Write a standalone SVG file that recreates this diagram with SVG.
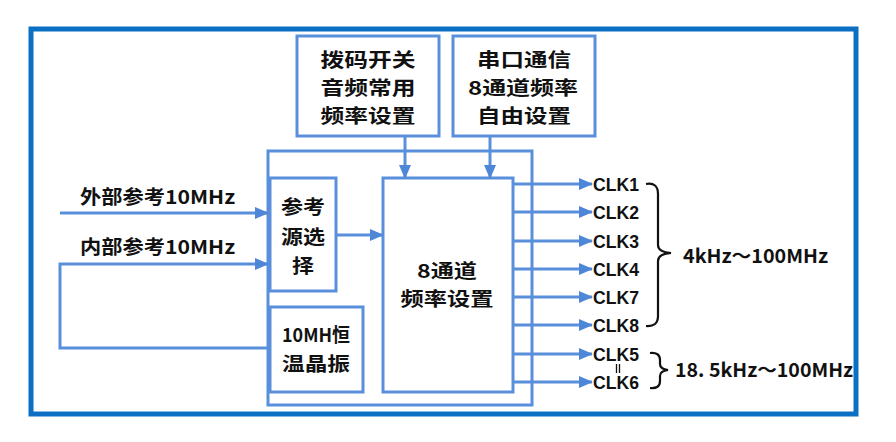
<svg xmlns="http://www.w3.org/2000/svg" width="896" height="442" viewBox="0 0 896 442">
<defs>
<style>
.frame{fill:none;stroke:#0b6fc3;stroke-width:5}
.box{fill:#fff;stroke:#5a8fdc;stroke-width:3}
.ln{fill:none;stroke:#5a8fdc;stroke-width:3}
.br{fill:none;stroke:#111;stroke-width:2.2}
.t{font-family:"Noto Sans CJK SC","Liberation Sans",sans-serif;font-weight:bold;font-size:19px;fill:#111}
.c{text-anchor:middle;dominant-baseline:central}
.clk{font-family:"Liberation Sans","Noto Sans CJK SC",sans-serif;font-weight:bold;font-size:19px;fill:#111;dominant-baseline:central}
.lab{font-family:"Noto Sans CJK SC","Liberation Sans",sans-serif;font-weight:bold;font-size:19px;fill:#111;dominant-baseline:central}
</style>
<marker id="ah" markerWidth="14" markerHeight="12" refX="13" refY="6" orient="auto" markerUnits="userSpaceOnUse">
<path d="M0,0 L14,6 L0,12 Z" fill="#4f87d8"/>
</marker>
</defs>
<rect width="896" height="442" fill="#fff"/>
<rect class="frame" x="31" y="29" width="825" height="385"/>

<g id="container"><rect class="box" x="268" y="151" width="264" height="254"/></g>

<g id="dip">
<rect class="box" x="297" y="36" width="142" height="100"/>
<text class="t c" x="368" y="58" textLength="95" lengthAdjust="spacingAndGlyphs">拨码开关</text>
<text class="t c" x="368" y="86" textLength="95" lengthAdjust="spacingAndGlyphs">音频常用</text>
<text class="t c" x="368" y="114" textLength="95" lengthAdjust="spacingAndGlyphs">频率设置</text>
</g>
<g id="serial">
<rect class="box" x="453" y="36" width="142" height="100"/>
<text class="t c" x="524" y="58" textLength="94" lengthAdjust="spacingAndGlyphs">串口通信</text>
<text class="t c" x="523" y="86" textLength="110" lengthAdjust="spacingAndGlyphs">8通道频率</text>
<text class="t c" x="524" y="114" textLength="94" lengthAdjust="spacingAndGlyphs">自由设置</text>
</g>
<g id="refsel">
<rect class="box" x="270" y="178" width="66" height="113"/>
<text class="t c" x="303" y="205" textLength="44" lengthAdjust="spacingAndGlyphs">参考</text>
<text class="t c" x="303" y="235" textLength="44" lengthAdjust="spacingAndGlyphs">源选</text>
<text class="t c" x="303" y="264" textLength="22" lengthAdjust="spacingAndGlyphs">择</text>
</g>
<g id="ocxo">
<rect class="box" x="270" y="307" width="93" height="85"/>
<text class="t c" x="316" y="333" textLength="68" lengthAdjust="spacingAndGlyphs">10MH恒</text>
<text class="t c" x="316" y="362" textLength="68" lengthAdjust="spacingAndGlyphs">温晶振</text>
</g>
<g id="synth">
<rect class="box" x="383" y="178" width="130" height="214"/>
<text class="t c" x="447" y="269" textLength="60" lengthAdjust="spacingAndGlyphs">8通道</text>
<text class="t c" x="447" y="297" textLength="93" lengthAdjust="spacingAndGlyphs">频率设置</text>
</g>

<g id="connectors">
<path class="ln" d="M405,136 V178" marker-end="url(#ah)"/>
<path class="ln" d="M490,136 V178" marker-end="url(#ah)"/>
<path class="ln" d="M60,213 H268" marker-end="url(#ah)"/>
<path class="ln" d="M268,348 H60 V264 H268" marker-end="url(#ah)"/>
<path class="ln" d="M336,235 H383" marker-end="url(#ah)"/>
<path class="ln" d="M513,184 H592" marker-end="url(#ah)"/>
<path class="ln" d="M513,212 H592" marker-end="url(#ah)"/>
<path class="ln" d="M513,241 H592" marker-end="url(#ah)"/>
<path class="ln" d="M513,269 H592" marker-end="url(#ah)"/>
<path class="ln" d="M513,297 H592" marker-end="url(#ah)"/>
<path class="ln" d="M513,325 H592" marker-end="url(#ah)"/>
<path class="ln" d="M513,354 H592" marker-end="url(#ah)"/>
<path class="ln" d="M513,382 H592" marker-end="url(#ah)"/>
</g>

<g id="labels">
<text class="lab" x="80" y="195" textLength="155" lengthAdjust="spacingAndGlyphs">外部参考10MHz</text>
<text class="lab" x="80" y="245" textLength="155" lengthAdjust="spacingAndGlyphs">内部参考10MHz</text>
<text class="clk" x="593" y="184" textLength="46" lengthAdjust="spacingAndGlyphs">CLK1</text>
<text class="clk" x="593" y="212" textLength="46" lengthAdjust="spacingAndGlyphs">CLK2</text>
<text class="clk" x="593" y="241" textLength="46" lengthAdjust="spacingAndGlyphs">CLK3</text>
<text class="clk" x="593" y="269" textLength="46" lengthAdjust="spacingAndGlyphs">CLK4</text>
<text class="clk" x="593" y="297" textLength="46" lengthAdjust="spacingAndGlyphs">CLK7</text>
<text class="clk" x="593" y="325" textLength="46" lengthAdjust="spacingAndGlyphs">CLK8</text>
<text class="clk" x="593" y="354" textLength="46" lengthAdjust="spacingAndGlyphs">CLK5</text>
<text class="clk" x="593" y="382" textLength="46" lengthAdjust="spacingAndGlyphs">CLK6</text>
<path d="M616.5,364 V373 M619.5,364 V373" stroke="#111" stroke-width="1.3"/>
<path class="br" d="M646,184 Q658,182 658,194 V245 Q658,252 671,253 Q658,254 658,261 V316 Q658,327 646,326"/>
<path class="br" d="M650,353 Q660,352 660,360 V364 Q660,369 668,370 Q660,371 660,376 V381 Q660,389 650,388"/>
<text class="lab" x="683" y="254" textLength="145" lengthAdjust="spacingAndGlyphs">4kHz～100MHz</text>
<text class="lab" x="675" y="368" textLength="178" lengthAdjust="spacingAndGlyphs">18. 5kHz～100MHz</text>
</g>
</svg>
